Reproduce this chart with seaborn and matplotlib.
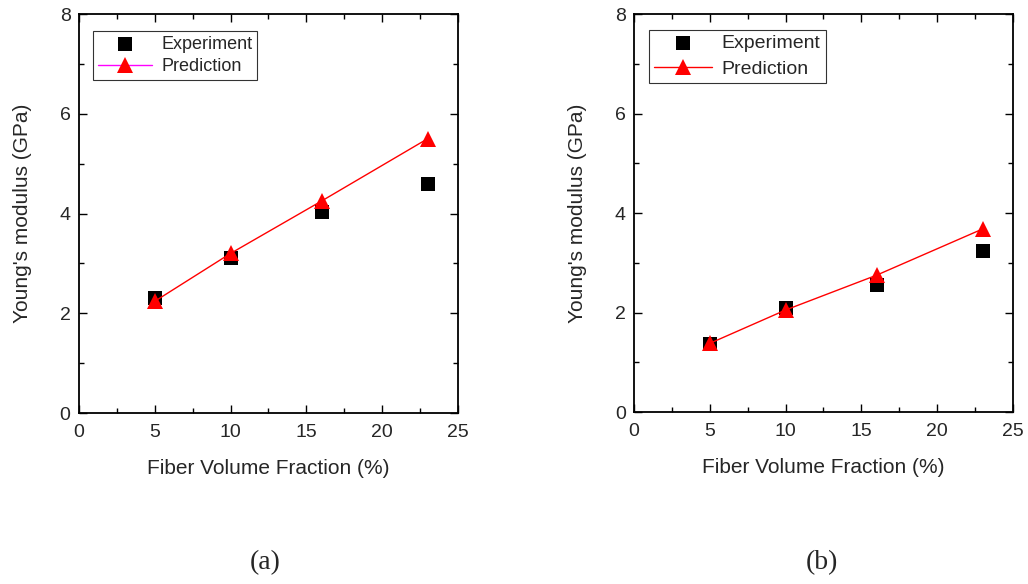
import matplotlib
matplotlib.use("Agg")
import matplotlib.pyplot as plt
from matplotlib.ticker import MultipleLocator
import seaborn as sns
import pandas as pd

# Fiber volume fraction (%)
fraction = [5, 10, 16, 23]

# Panel (a)
exp_a = [2.31, 3.10, 4.04, 4.59]
err_a = [0.08, 0.08, 0.08, 0.10]
pred_a = [2.24, 3.20, 4.25, 5.50]

# Panel (b)
exp_b = [1.36, 2.09, 2.55, 3.23]
err_b = [0.05, 0.05, 0.05, 0.05]
pred_b = [1.38, 2.05, 2.75, 3.68]

panel_labels = ["(a)", "(b)"]
legend_line_colors = ["magenta", "red"]

sns.set_style("ticks")
plt.rcParams["font.family"] = ["Liberation Sans", "DejaVu Sans"]

fig = plt.figure(figsize=(10.28, 5.84), dpi=100)
positions = [[0.0768, 0.2928, 0.3687, 0.6832], [0.6167, 0.2945, 0.3687, 0.6815]]
panels = [(exp_a, err_a, pred_a), (exp_b, err_b, pred_b)]
legend_anchor = [(0.024, 0.97), (0.024, 0.975)]
legend_size = [13, 14]
legend_spacing = [0.3, 0.4]
label_x = [0.258, 0.8]

for i, (pos, (exp, err, pred), plabel, lcol) in enumerate(zip(positions, panels, panel_labels, legend_line_colors)):
    ax = fig.add_axes(pos)
    df = pd.DataFrame({"x": fraction, "exp": exp, "pred": pred})
    ax.errorbar(fraction, exp, yerr=err, fmt="none", ecolor="black", elinewidth=1, capsize=3, zorder=2)
    sns.scatterplot(data=df, x="x", y="exp", marker="s", s=90, color="black",
                    edgecolor="black", linewidth=0, ax=ax, zorder=3, label="Experiment")
    sns.lineplot(data=df, x="x", y="pred", color="red", linewidth=1, marker="^",
                 markersize=12, markeredgewidth=0, ax=ax, zorder=4, label="Prediction")
    ax.set_xlim(0, 25)
    ax.set_ylim(0, 8)
    ax.xaxis.set_major_locator(MultipleLocator(5))
    ax.xaxis.set_minor_locator(MultipleLocator(2.5))
    ax.yaxis.set_major_locator(MultipleLocator(2))
    ax.yaxis.set_minor_locator(MultipleLocator(1))
    ax.tick_params(which="both", direction="in", top=True, right=True, labelsize=14, width=1, color="black")
    ax.tick_params(which="major", length=6)
    ax.tick_params(which="minor", length=3.5)
    ax.tick_params(axis="x", pad=8)
    ax.tick_params(axis="y", pad=6)
    for sp in ax.spines.values():
        sp.set_visible(True)
        sp.set_linewidth(1.3)
        sp.set_color("black")
    ax.set_xlabel("Fiber Volume Fraction (%)", fontsize=15, labelpad=13)
    ax.set_ylabel("Young's modulus (GPa)", fontsize=15, labelpad=20)
    handles, labels = ax.get_legend_handles_labels()
    leg = ax.legend(handles, labels, loc="upper left", bbox_to_anchor=legend_anchor[i],
                    fontsize=legend_size[i], frameon=True, fancybox=False, edgecolor="black",
                    borderpad=0.25, labelspacing=legend_spacing[i], handlelength=3.0,
                    handletextpad=0.5, borderaxespad=0.3)
    leg.get_frame().set_linewidth(0.8)
    for line in leg.get_lines():
        if line.get_marker() == "^":
            line.set_color(lcol)
            line.set_markerfacecolor("red")
    fig.text(label_x[i], 1 - 563 / 584, plabel, ha="center", va="center",
             fontsize=20, family=["Liberation Serif", "DejaVu Serif"])

fig.savefig("out.png", dpi=100, facecolor="white")
